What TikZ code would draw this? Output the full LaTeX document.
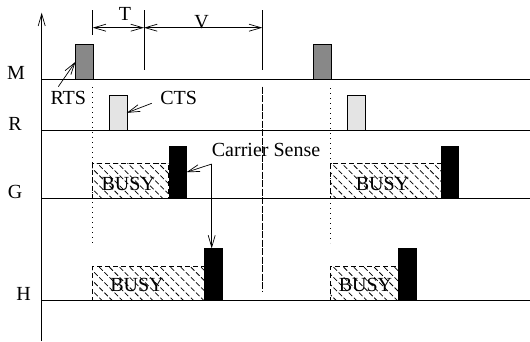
\documentclass[tikz,border=0pt]{standalone}
\usepackage{fontspec}
\setmainfont{Liberation Serif}
\usetikzlibrary{arrows.meta,patterns.meta}
\definecolor{rtsgray}{HTML}{888888}
\definecolor{ctsgray}{HTML}{E4E4E4}
\tikzset{
  ln/.style={line width=0.7pt},
  tip/.style={-{Straight Barb[length=12pt,width=7pt,line width=0.7pt]}},
  dtip/.style={{Straight Barb[length=12pt,width=7pt,line width=0.7pt]}-{Straight Barb[length=12pt,width=7pt,line width=0.7pt]}},
  lbl/.style={anchor=base,inner sep=0pt,font=\fontsize{20}{24}\selectfont},
  pbox/.style={anchor=south west,inner sep=0pt,outer sep=0pt,minimum width=17.5pt,draw,line width=0.6pt},
  rtsbox/.style={pbox,fill=rtsgray,minimum height=34.5pt},
  ctsbox/.style={pbox,fill=ctsgray,minimum height=34.3pt},
  blkbox/.style={pbox,fill=black,minimum height=51.5pt},
  busybox/.style={anchor=south west,inner sep=0pt,outer sep=0pt,minimum height=34.5pt,draw,line width=0.7pt,
    dash pattern=on 5pt off 3pt,pattern={Lines[angle=-45,distance=7.2pt,line width=0.75pt]}},
  dotv/.style={line width=0.7pt,dash pattern=on 0.8pt off 4.2pt},
  dashv/.style={line width=0.7pt,dash pattern=on 7pt off 1.5pt}
}
\begin{document}
\begin{tikzpicture}[x=1pt,y=-1pt]
\useasboundingbox (0,0) rectangle (530,341);
% coordinates
\coordinate (axb) at (41.7,341);
\coordinate (axt) at (41.7,12.7);
\foreach \n/\y in {m/79,r/130,g/198,h/300}{
  \coordinate (\n L) at (41.7,\y);
  \coordinate (\n R) at (530,\y);
}
% dotted and dashed verticals
\draw[dotv] (92.7,87) coordinate (d1t) -- (92.7,243) coordinate (d1b);
\draw[dotv] (330.7,88) coordinate (d2t) -- (330.7,243) coordinate (d2b);
\draw[dashv] (262.5,86.7) coordinate (dvt) -- (262.5,291.7) coordinate (dvb);
% busy boxes
\node[busybox,minimum width=75.6pt] (gb1) at (92.7,198) {};
\node[busybox,minimum width=110.3pt] (gb2) at (330.7,198) {};
\node[busybox,minimum width=111.6pt,minimum height=34pt] (hb1) at (92.7,300) {};
\node[busybox,minimum width=67.6pt,minimum height=34pt] (hb2) at (330.7,300) {};
% packet boxes
\node[rtsbox] (rts1) at (75.5,79) {};
\node[rtsbox] (rts2) at (313.4,79) {};
\node[ctsbox] (cts1) at (109.3,130) {};
\node[ctsbox] (cts2) at (347.4,130) {};
\node[blkbox] (gk1) at (169,198) {};
\node[blkbox] (gk2) at (441.2,198) {};
\node[blkbox] (hk1) at (204.3,300) {};
\node[blkbox] (hk2) at (398.4,300) {};
% axis and baselines
\draw[ln,tip] (axb) -- (axt);
\foreach \n in {m,r,g,h}{\draw[ln] (\n L) -- (\n R);}
% T / V markers
\draw[ln] (92.7,10) coordinate (t1) -- (92.7,35) coordinate (t1b);
\draw[ln] (144,10) coordinate (t2) -- (144,70) coordinate (t2b);
\draw[ln] (262.3,10) coordinate (t3) -- (262.3,70) coordinate (t3b);
\coordinate (a1) at (92.7,27.7);
\coordinate (a2) at (144,27.7);
\coordinate (a3) at (262.3,27.7);
\draw[ln,dtip] (a1) -- (a2);
\draw[ln,dtip] (a2) -- (a3);
% labels
\node[lbl] (lm) at (16,79) {M};
\node[lbl] (lr) at (15,130) {R};
\node[lbl] (lg) at (15,198) {G};
\node[lbl] (lh) at (23.7,300) {H};
\node[lbl] (lt) at (125,20) {T};
\node[lbl] (lv) at (201.7,28.3) {V};
\node[lbl] (lrts) at (68.3,104.5) {RTS};
\node[lbl] (lcts) at (178.7,104.5) {CTS};
\node[lbl,anchor=base west] (lcs) at (211.7,156.5) {Carrier Sense};
\node[lbl] (bz1) at (128.3,190.5) {BUSY};
\node[lbl] (bz2) at (137,291.7) {BUSY};
\node[lbl] (bz3) at (382.5,190.7) {BUSY};
\node[lbl] (bz4) at (365.5,291.7) {BUSY};
% pointer arrows
\coordinate (rtsfrom) at (58.3,86.7);
\draw[ln,tip] (rtsfrom) -- (rts1.west);
\coordinate (ctsfrom) at (151.7,103.3);
\draw[ln,tip] (ctsfrom) -- (cts1.east);
\coordinate (cs) at (211.7,164);
\draw[ln,tip] (cs) -- (gk1.east);
\draw[ln,tip] (cs) -- (cs |- hk1.north);
\end{tikzpicture}
\end{document}
